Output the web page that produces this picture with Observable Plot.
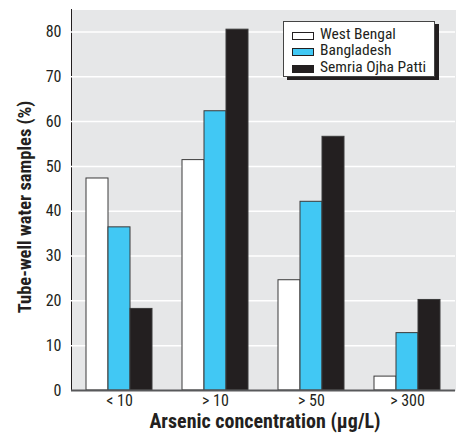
<!DOCTYPE html>
<html>
<head>
<meta charset="utf-8">
<script src="https://cdn.jsdelivr.net/npm/d3@7"></script>
<script src="https://cdn.jsdelivr.net/npm/@observablehq/plot@0.6"></script>
<style>
  html, body { margin: 0; padding: 0; background: white; }
  #wrap { position: relative; width: 460px; height: 433px; font-family: "Liberation Sans Narrow", "Roboto Condensed", "DejaVu Sans Condensed", sans-serif; font-stretch: condensed; color: #231f20; }
  #legend { position: absolute; left: 283px; top: 21px; width: 152px; height: 56px; box-sizing: border-box; border: 1px solid #444; background: white; box-shadow: 4px 3px 0 #231f20; font-size: 15.5px; }
  .item { position: absolute; left: 8px; height: 16px; }
  .sw { position: absolute; left: 0; top: 5px; width: 20px; height: 6px; border: 1px solid #231f20; }
  .lab { position: absolute; display: block; left: 28px; top: 0; height: 15px; line-height: 15px; white-space: nowrap; overflow: visible; }
  #ytitle { position: absolute; left: 25px; top: 207px; transform: translate(-50%, -50%) rotate(-90deg); font-weight: bold; font-size: 18.5px; white-space: nowrap; }
  #xtitle { position: absolute; left: 265px; top: 421px; transform: translate(-50%, -50%); font-weight: bold; font-size: 20px; white-space: nowrap; }
</style>
</head>
<body>
<div id="wrap"></div>
<script>
const categories = ["< 10", "> 10", "> 50", "> 300"];
const series = ["West Bengal", "Bangladesh", "Semria Ojha Patti"];
const westBengal = [47.3, 51.4, 24.6, 3.1];
const bangladesh = [36.4, 62.3, 42.1, 12.8];
const semriaOjhaPatti = [18.2, 80.5, 56.6, 20.2];
const yTicks = [0, 10, 20, 30, 40, 50, 60, 70, 80];
const colors = ["#ffffff", "#41c8f4", "#231f20"];
const xTitle = "Arsenic concentration (\u03bcg/L)";
const yTitle = "Tube-well water samples (%)";

const seriesValues = [westBengal, bangladesh, semriaOjhaPatti];
const data = [];
categories.forEach((c, i) => {
  series.forEach((s, j) => data.push({category: c, series: s, value: seriesValues[j][i]}));
});

const font = '"Liberation Sans Narrow", "Roboto Condensed", "DejaVu Sans Condensed", sans-serif';

const chart = Plot.plot({
  width: 460,
  height: 433,
  marginLeft: 70,
  marginRight: 4,
  marginTop: 9,
  marginBottom: 43,
  style: {fontFamily: font, fontSize: "16px", color: "#231f20", background: "transparent", fontStretch: "condensed"},
  facet: {data, x: "category"},
  fx: {domain: categories, padding: 0, axis: "bottom", tickSize: 0, tickPadding: 4, label: null},
  x: {domain: series, paddingInner: 0, paddingOuter: 0.615, axis: null},
  y: {domain: [0, 85], ticks: yTicks, tickSize: 0, tickPadding: 10, label: null, line: true},
  color: {domain: series, range: colors},
  marks: [
    Plot.frame({fill: "#e6e7e8", stroke: "none", shapeRendering: "crispEdges"}),
    Plot.ruleY(yTicks.slice(1), {stroke: "white", strokeWidth: 1.5}),
    Plot.barY(data, {x: "series", y: "value", fill: "series", stroke: "#3a3a3a", strokeWidth: 1}),
    Plot.ruleY([0], {stroke: "#58595b", strokeWidth: 2})
  ]
});

const wrap = document.getElementById("wrap");
wrap.appendChild(chart);

const legend = document.createElement("div");
legend.id = "legend";
series.forEach((s, j) => {
  const item = document.createElement("div");
  item.className = "item";
  item.style.top = (5 + j * 16.3) + "px";
  const sw = document.createElement("div");
  sw.className = "sw";
  sw.style.background = colors[j];
  const lab = document.createElement("span");
  lab.className = "lab";
  lab.textContent = s;
  item.appendChild(sw);
  item.appendChild(lab);
  legend.appendChild(item);
});
wrap.appendChild(legend);

const yt = document.createElement("div");
yt.id = "ytitle";
yt.textContent = yTitle;
wrap.appendChild(yt);
const xt = document.createElement("div");
xt.id = "xtitle";
xt.textContent = xTitle;
wrap.appendChild(xt);
</script>
</body>
</html>
